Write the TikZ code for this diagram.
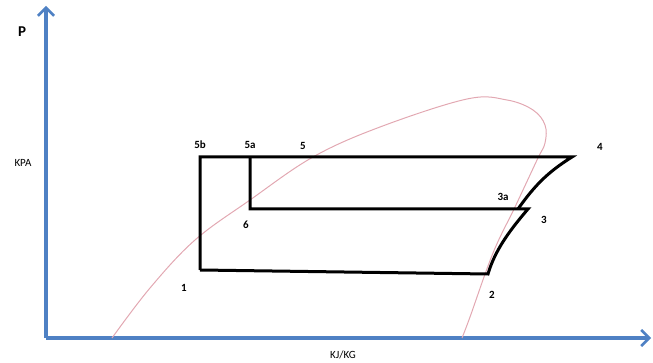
\documentclass[tikz,border=0pt]{standalone}
\usepackage{fontspec}
\setmainfont{Carlito}
\usepackage{tikz}
\usetikzlibrary{positioning, calc, arrows.meta}

\definecolor{axisblue}{RGB}{79,129,196}
\definecolor{domepink}{RGB}{226,168,178}

\begin{document}
\begin{tikzpicture}[
    x=1pt, y=-1pt,
    axis/.style={draw=axisblue, line width=3.2pt, -{Straight Barb[length=8pt, width=16pt, line width=2.6pt]}},
    cycle line/.style={draw=black, line width=3pt, line join=miter},
    dome/.style={draw=domepink, line width=1pt},
    pointlabel/.style={font=\fontsize{11}{12}\selectfont\bfseries, inner sep=1pt},
    unitlabel/.style={font=\fontsize{11}{12}\selectfont, inner sep=1pt}
]
\useasboundingbox (0,0) rectangle (653,363);

% --- Axes ---
\coordinate (origin) at (46,338);
\coordinate (ptop) at (46,6);
\coordinate (hright) at (651,338);
\draw[axis] (origin)--(ptop);
\draw[axis] (origin)--(hright);
\node[font=\fontsize{15}{16}\selectfont\bfseries] (plabel) at (22,32) {P};
\node[unitlabel, fill=white, inner xsep=4pt] (kpa) at (23,163) {KPA};
\node[unitlabel] (kjkg) at (343,355) {KJ/KG};

% --- Saturation dome ---
\draw[dome] plot[smooth, tension=0.6] coordinates {
    (112,338) (150,288) (195,240) (250,200) (313,157) (380,127)
    (467,99) (507,100) (533,110) (545,125) (545,143) (537,160)
    (515,207) (493,253) (470,317) (462,338)};

% --- Cycle points ---
\coordinate (p1) at (200,270);
\coordinate (p2) at (488,274);
\coordinate (p3) at (528,209);
\coordinate (p3a) at (518,209);
\coordinate (p4) at (572,157);
\coordinate (p5) at (305,157);
\coordinate (p5a) at (250,157);
\coordinate (p5b) at (200,157);
\coordinate (p6) at (250,209);

% --- Cycle lines ---
\draw[cycle line] (p1)--(p5b)--(p4) .. controls (548,172) and (535,185) .. (p3a);
\draw[cycle line] (p5a)--(p6)--(p3) .. controls (510,230) and (495,250) .. (p2)--(p1);

% --- Point labels ---
\node[pointlabel] (l1) at (184,288) {1};
\node[pointlabel] (l2) at (492,295) {2};
\node[pointlabel] (l3) at (544,220) {3};
\node[pointlabel] (l3a) at (503,197) {3a};
\node[pointlabel] (l4) at (600,147) {4};
\node[pointlabel] (l5) at (303,146) {5};
\node[pointlabel] (l5a) at (250,145) {5a};
\node[pointlabel] (l5b) at (200,145) {5b};
\node[pointlabel] (l6) at (246,225) {6};

\end{tikzpicture}
\end{document}
